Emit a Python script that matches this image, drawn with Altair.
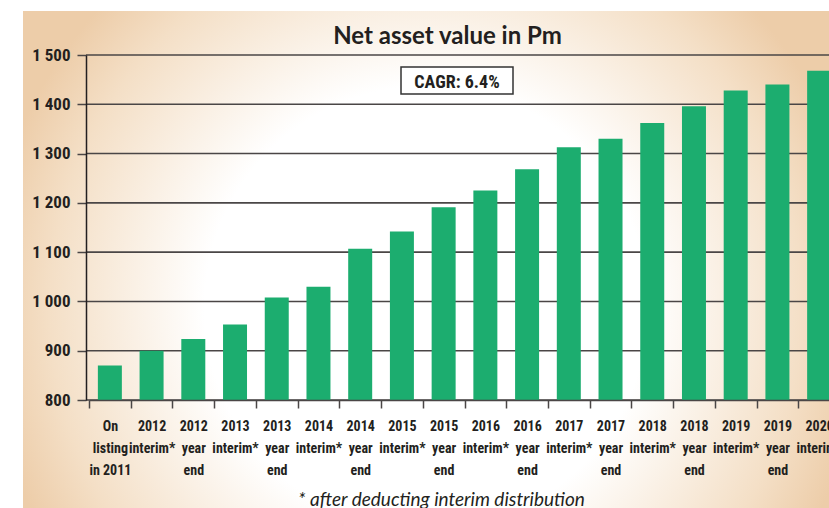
import altair as alt
import pandas as pd

categories = [
    "On|listing|in 2011", "2012|interim*", "2012|year|end", "2013|interim*",
    "2013|year|end", "2014|interim*", "2014|year|end", "2015|interim*",
    "2015|year|end", "2016|interim*", "2016|year|end", "2017|interim*",
    "2017|year|end", "2018|interim*", "2018|year|end", "2019|interim*",
    "2019|year|end", "2020|interim*",
]
nav_values = [870, 900, 924, 953, 1008, 1030, 1107, 1142, 1191, 1225,
              1268, 1313, 1330, 1362, 1396, 1428, 1440, 1468]
y_ticks = [800, 900, 1000, 1100, 1200, 1300, 1400, 1500]
title_text = "Net asset value in Pm"
cagr_label = "CAGR: 6.4%"
footnote = "* after deducting interim distribution"

W, H = 743, 345
NARROW = "Liberation Sans Narrow, Roboto Condensed, Roboto"
INK = "#231f20"
GRID = "#4a4646"

df = pd.DataFrame({"period": categories, "nav": nav_values})
grid_df = pd.DataFrame({"v": y_ticks})
one = pd.DataFrame({"k": [0]})

x_scale = alt.Scale(domain=categories, range=[3, 754], paddingInner=0, paddingOuter=0)
y_scale = alt.Scale(domain=[800, 1500], nice=False, zero=False)

y_axis = alt.Axis(
    values=y_ticks,
    title=None,
    labelExpr="replace(format(datum.value, ','), ',', ' ')",
    labelFont=NARROW,
    labelFontWeight="bold",
    labelFontSize=17,
    labelColor=INK,
    labelPadding=7,
    tickSize=9,
    tickColor=GRID,
    tickWidth=1.5,
    domain=True,
    domainColor=INK,
    domainWidth=1.5,
    grid=False,
    zindex=1,
)

gradient = {
    "gradient": "radial",
    "x1": 0.5, "y1": 0.56, "r1": 0,
    "x2": 0.5, "y2": 0.56, "r2": 0.55,
    "stops": [
        {"offset": 0, "color": "#ffffff"},
        {"offset": 0.5, "color": "#ffffff"},
        {"offset": 0.85, "color": "#f4dfc6"},
        {"offset": 1, "color": "#edcda9"},
    ],
}

bg = alt.Chart(one).mark_rect(fill=gradient).encode(
    x=alt.value(-63), x2=alt.value(W), y=alt.value(-44), y2=alt.value(H + 108)
)

grid = alt.Chart(grid_df).mark_rule(color=GRID, strokeWidth=1.6).encode(
    y=alt.Y("v:Q", scale=y_scale, axis=y_axis),
    x=alt.value(0),
    x2=alt.value(W),
)

bars = alt.Chart(df).mark_bar(color="#1cad6f", width=alt.RelativeBandSize(0.575)).encode(
    x=alt.X(
        "period:N",
        sort=categories,
        scale=x_scale,
        axis=alt.Axis(
            title=footnote,
            titleFont="Lato",
            titleFontStyle="italic",
            titleFontWeight="normal",
            titleFontSize=19,
            titleColor=INK,
            titleX=355,
            titleY=105,
            titleBaseline="alphabetic",
            titleAlign="center",
            labelExpr="split(datum.label, '|')",
            labelFont=NARROW,
            labelFontWeight="bold",
            labelFontSize=14,
            labelLineHeight=22,
            labelColor=INK,
            labelPadding=11,
            labelAngle=0,
            labelBaseline="top",
            labelOverlap=False,
            labelFlush=False,
            tickBand="extent",
            tickOffset=-2.7,
            tickSize=8,
            tickColor=GRID,
            tickWidth=1.5,
            domainColor=GRID,
            domainWidth=1.5,
            grid=False,
            zindex=1,
        ),
    ),
    y=alt.Y("nav:Q", scale=y_scale, axis=y_axis),
    y2=alt.datum(800),
)

box = alt.Chart(one).mark_rect(fill="white", stroke="#333", strokeWidth=1.5).encode(
    x=alt.value(315), x2=alt.value(427), y=alt.value(12), y2=alt.value(39)
)
cagr = alt.Chart(one).mark_text(
    text=cagr_label, font=NARROW, fontSize=18, fontWeight="bold", color=INK,
    align="center", baseline="alphabetic",
).encode(x=alt.value(371), y=alt.value(32.5))

chart = alt.layer(bg, grid, bars, box, cagr).properties(
    width=W,
    height=H,
    title=alt.TitleParams(
        title_text, font="Lato", fontSize=24, fontWeight="bold", color=INK,
        anchor="middle", frame="group", baseline="alphabetic", offset=-57, dx=-10,
    ),
    autosize="none",
    padding={"left": 86, "top": 55, "right": 0, "bottom": 108},
    background="white",
).configure_view(stroke=None)

chart.save("out.html", embed_options={"renderer": "svg", "actions": False})
